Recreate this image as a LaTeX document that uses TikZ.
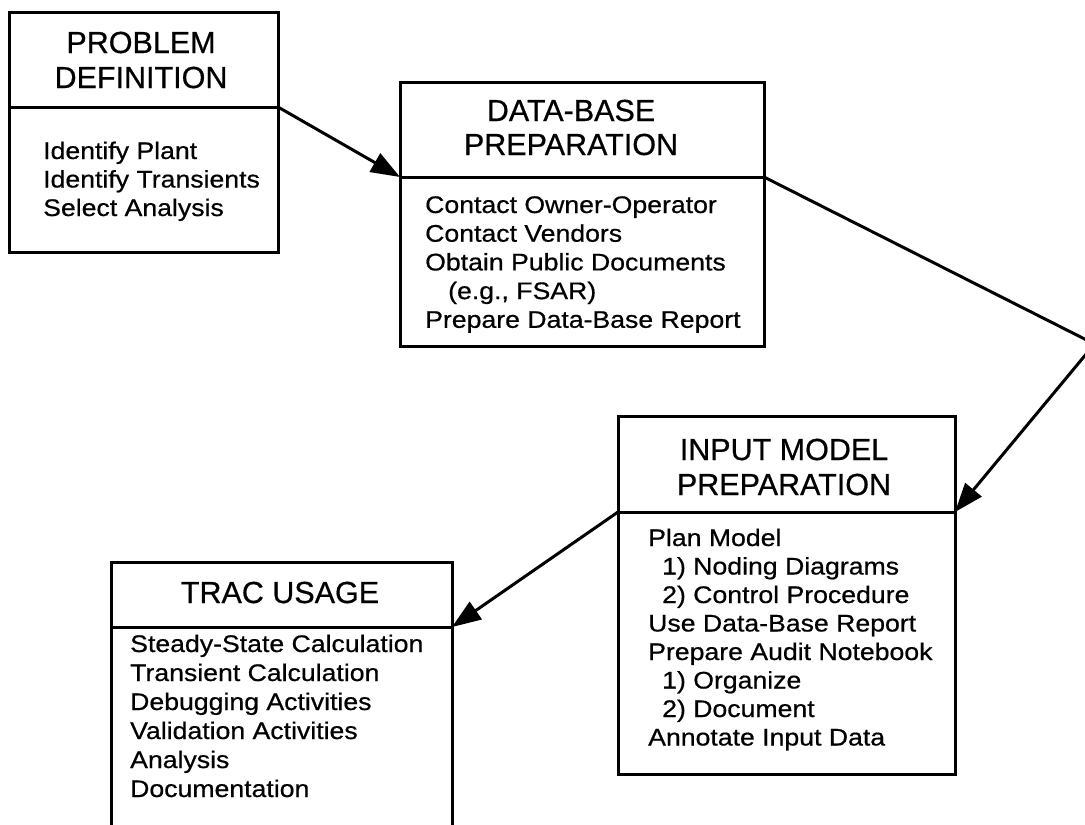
\documentclass[tikz,border=0pt]{standalone}
\usepackage{fontspec}
\setmainfont[FakeBold=0.6]{Liberation Sans}
\newfontfamily\bodyfont[FakeStretch=1.11,FakeBold=0.6]{Liberation Sans}
\usetikzlibrary{arrows.meta}
\tikzset{
  part/.style={draw=black, line width=3pt, rectangle, inner sep=0pt, outer sep=0pt, anchor=north west},
  hdr/.style={anchor=base, inner sep=0pt, font=\fontsize{30.5}{34}\selectfont},
  bodytxt/.style={anchor=base west, inner sep=0pt, font=\bodyfont\fontsize{24}{28.5}\selectfont},
  link/.style={line width=3pt, -{Triangle[length=29pt,width=21pt]}, line join=miter}
}
\begin{document}
\begin{tikzpicture}[x=1pt,y=-1pt]
\useasboundingbox (0,0) rectangle (1085,825);
\clip (0,0) rectangle (1085,825);
\fill[white] (0,0) rectangle (1085,825);

% Box 1: PROBLEM DEFINITION
\node[part, minimum width=269pt, minimum height=95pt] (pdh) at (9,12) {};
\node[part, minimum width=269pt, minimum height=145pt] (pdb) at (9,107) {};
\node[hdr] (pdt1) at (141,53) {PROBLEM};
\node[hdr] (pdt2) at (141,88) {DEFINITION};
\node[bodytxt] (pdl1) at (43,159) {Identify Plant};
\node[bodytxt] (pdl2) at (43,187.5) {Identify Transients};
\node[bodytxt] (pdl3) at (43,216) {Select Analysis};

% Box 2: DATA-BASE PREPARATION
\node[part, minimum width=364pt, minimum height=95pt] (dbh) at (400,82) {};
\node[part, minimum width=364pt, minimum height=169pt] (dbb) at (400,177) {};
\node[hdr] (dbt1) at (571,121) {DATA-BASE};
\node[hdr] (dbt2) at (571,155) {PREPARATION};
\node[bodytxt] (dbl1) at (425,213) {Contact Owner-Operator};
\node[bodytxt] (dbl2) at (425,241.7) {Contact Vendors};
\node[bodytxt] (dbl3) at (425,270.4) {Obtain Public Documents};
\node[bodytxt] (dbl4) at (448,299.1) {(e.g., FSAR)};
\node[bodytxt] (dbl5) at (425,327.8) {Prepare Data-Base Report};

% Box 3: INPUT MODEL PREPARATION
\node[part, minimum width=337pt, minimum height=96pt] (imh) at (618,416) {};
\node[part, minimum width=337pt, minimum height=262pt] (imb) at (618,512) {};
\node[hdr] (imt1) at (784,460) {INPUT MODEL};
\node[hdr] (imt2) at (784,495) {PREPARATION};
\node[bodytxt] (iml1) at (648,546) {Plan Model};
\node[bodytxt] (iml2) at (662,574.5) {1) Noding Diagrams};
\node[bodytxt] (iml3) at (662,603) {2) Control Procedure};
\node[bodytxt] (iml4) at (648,631.5) {Use Data-Base Report};
\node[bodytxt] (iml5) at (648,660) {Prepare Audit Notebook};
\node[bodytxt] (iml6) at (662,688.5) {1) Organize};
\node[bodytxt] (iml7) at (662,717) {2) Document};
\node[bodytxt] (iml8) at (648,745.5) {Annotate Input Data};

% Box 4: TRAC USAGE
\node[part, minimum width=341pt, minimum height=65pt] (tuh) at (111,562) {};
\node[part, minimum width=341pt, minimum height=200pt] (tub) at (111,627) {};
\node[hdr] (tut1) at (280,603) {TRAC USAGE};
\node[bodytxt] (tul1) at (130,652) {Steady-State Calculation};
\node[bodytxt] (tul2) at (130,681) {Transient Calculation};
\node[bodytxt] (tul3) at (130,710) {Debugging Activities};
\node[bodytxt] (tul4) at (130,739) {Validation Activities};
\node[bodytxt] (tul5) at (130,768) {Analysis};
\node[bodytxt] (tul6) at (130,797) {Documentation};

% Connectors
\coordinate (corner) at (1094.5,344);
\draw[link] (pdb.north east) -- (dbb.north west);
\draw[link] (dbb.north east) -- (corner) -- (imb.north east);
\draw[link] (imb.north west) -- (tub.north east);
\end{tikzpicture}
\end{document}
